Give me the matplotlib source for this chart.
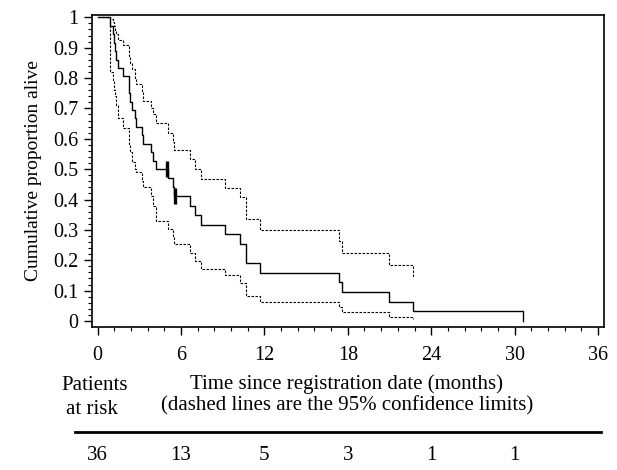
import matplotlib
matplotlib.use("Agg")
import matplotlib.pyplot as plt
from matplotlib.ticker import MultipleLocator

plt.rcParams['font.family'] = ['Liberation Serif', 'DejaVu Serif']

# ---- data ----
km_t = [0, 0.9, 1.1, 1.2, 1.27, 1.33, 1.5, 1.85, 2.23, 2.26, 2.3, 2.47, 2.66, 2.75,
        3.18, 3.28, 3.85, 4.0, 4.19, 5.05, 5.45, 5.5, 6.68, 7.04, 7.45, 9.18,
        10.27, 10.68, 11.66, 17.4, 17.6, 21.0, 22.7, 30.6]
km_s = [1.0, 0.972, 0.944, 0.917, 0.889, 0.861, 0.833, 0.806, 0.778, 0.750, 0.722,
        0.694, 0.667, 0.639, 0.611, 0.583, 0.556, 0.528, 0.500, 0.471, 0.441,
        0.412, 0.380, 0.348, 0.317, 0.285, 0.253, 0.190, 0.158, 0.127, 0.095,
        0.063, 0.032, 0.0]

ci_t = [0, 0.9, 1.1, 1.2, 1.27, 1.33, 1.5, 1.85, 2.23, 2.26, 2.3, 2.47, 2.66, 2.75,
        3.18, 3.28, 3.85, 4.0, 4.19, 5.05, 5.45, 5.5, 6.68, 7.04, 7.45, 9.18,
        10.27, 10.68, 11.66, 17.4, 17.6, 21.0, 22.7]
upper = [1.0, 0.995, 0.985, 0.97, 0.955, 0.945, 0.925, 0.908, 0.89, 0.87, 0.85,
         0.83, 0.80, 0.78, 0.755, 0.724, 0.70, 0.68, 0.653, 0.62, 0.59, 0.562,
         0.532, 0.502, 0.468, 0.439, 0.407, 0.336, 0.300, 0.262, 0.224, 0.183, 0.140]
lower = [1.0, 0.82, 0.79, 0.76, 0.74, 0.71, 0.67, 0.635, 0.61, 0.58, 0.555,
         0.525, 0.50, 0.49, 0.46, 0.44, 0.41, 0.38, 0.33, 0.303, 0.28, 0.254,
         0.224, 0.199, 0.171, 0.150, 0.125, 0.083, 0.061, 0.045, 0.029, 0.0135, 0.008]

censor_t = [4.96, 5.58]
censor_s = [0.500, 0.412]

risk_times = [0, 6, 12, 18, 24, 30]
risk_counts = ["36", "13", "5", "3", "1", "1"]

x_ticks = [0, 6, 12, 18, 24, 30, 36]
y_ticks = [0, 0.1, 0.2, 0.3, 0.4, 0.5, 0.6, 0.7, 0.8, 0.9, 1.0]
y_ticklabels = ["0", "0.1", "0.2", "0.3", "0.4", "0.5", "0.6", "0.7", "0.8", "0.9", "1"]

# ---- figure ----
W, H = 617, 470
fig = plt.figure(figsize=(W / 100, H / 100), dpi=100)

def fx(px):
    return px / W

def fy(py):
    return 1 - py / H

left, right, top, bottom = 92, 604, 15, 327
xmin, xmax = -0.4, 36.43
ax = fig.add_axes([fx(left), fy(bottom), fx(right - left), (bottom - top) / H])
ax.set_xlim(xmin, xmax)
ax.set_ylim(-0.0198, 1.0076)

dash = (0, (2.2, 1.4))
ax.step(km_t, km_s, where='post', color='black', lw=1.0)
ax.step(ci_t, upper, where='post', color='black', lw=0.8, linestyle=dash)
ax.step(ci_t, lower, where='post', color='black', lw=0.8, linestyle=dash)
for t, s in zip(censor_t, censor_s):
    ax.plot([t, t], [s - 0.027, s + 0.027], color='black', lw=2.4, solid_capstyle='butt')

ax.set_xticks(x_ticks)
ax.set_yticks(y_ticks)
ax.set_yticklabels(y_ticklabels)
ax.xaxis.set_minor_locator(MultipleLocator(1.2))
ax.yaxis.set_minor_locator(MultipleLocator(0.02))
ax.tick_params(axis='both', which='major', direction='out', length=6, width=1.0,
               labelsize=14.5, colors='black')
ax.tick_params(axis='both', which='minor', direction='out', length=3, width=0.8)
ax.tick_params(axis='x', pad=8)
ax.tick_params(axis='y', pad=4)
for sp in ax.spines.values():
    sp.set_linewidth(1.2)
    sp.set_color('black')

ax.set_ylabel("Cumulative proportion alive", fontsize=14, labelpad=8)

fs = 15
fig.text(fx(347), fy(384), "Time since registration date (months)", ha='center', va='center', fontsize=fs)
fig.text(fx(347), fy(406), "(dashed lines are the 95% confidence limits)", ha='center', va='center', fontsize=fs)
fig.text(fx(95), fy(386), "Patients", ha='center', va='center', fontsize=fs)
fig.text(fx(92), fy(409), "at risk", ha='center', va='center', fontsize=fs)
fig.add_artist(plt.Line2D([fx(75), fx(601)], [fy(432), fy(432)], color='black', lw=2.0))

for t, c in zip(risk_times, risk_counts):
    xpix = left + (t - xmin) / (xmax - xmin) * (right - left)
    fig.text(fx(xpix), fy(456), c, ha='center', va='center', fontsize=fs)

fig.savefig("out.png", dpi=100)
